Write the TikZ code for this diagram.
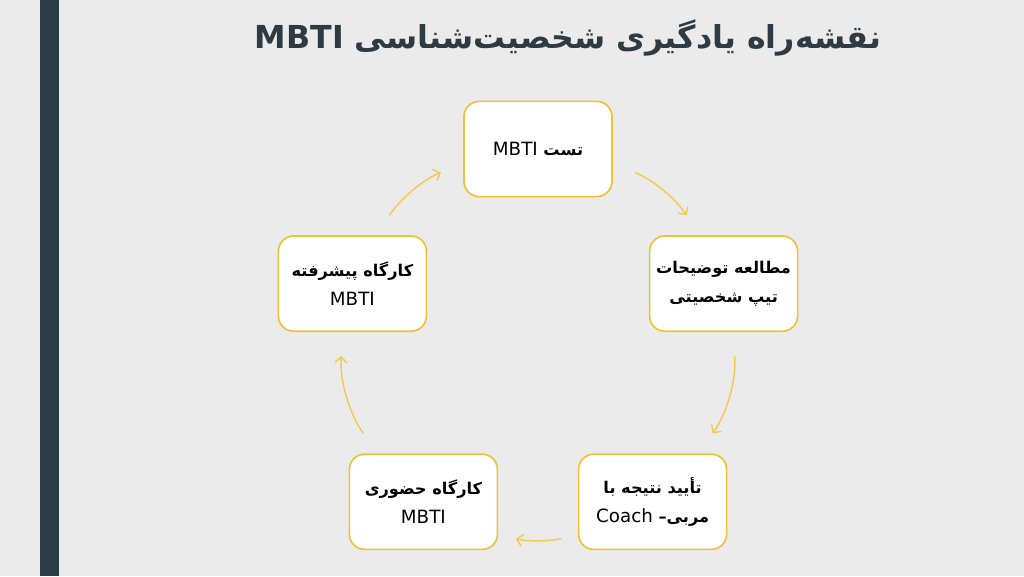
\documentclass[tikz,border=0pt]{standalone}
\usepackage{fontspec}
\usetikzlibrary{positioning, arrows.meta}
\TeXXeTstate=1
\newfontfamily\fafont[Script=Arabic]{DejaVu Sans}
\newcommand{\lat}[1]{{\mdseries\fontsize{13}{20.5}\selectfont\beginL #1\endL}}
\definecolor{pagebg}{HTML}{EBEBEB}
\definecolor{sidebar}{HTML}{2B3D45}
\definecolor{titleink}{HTML}{2E3B43}
\definecolor{gold}{HTML}{EFC23A}
\definecolor{palegold}{HTML}{F2CA4E}
\tikzset{
  stage/.style={
    draw=gold,
    line width=1.2pt,
    rectangle,
    rounded corners=0.38cm,
    minimum width=3.7cm,
    minimum height=2.38cm,
    inner xsep=2pt,
    align=center,
    fill=white,
    font=\fafont\bfseries\fontsize{11.5}{20.5}\selectfont
  },
  link/.style={
    draw=palegold,
    line width=1pt,
    -{Straight Barb[length=4pt,width=8.5pt]},
    shorten <=0.6cm,
    shorten >=0.6cm
  }
}

\begin{document}
\begin{tikzpicture}
    % page and side bar
    \fill[pagebg] (0,0) rectangle (25.6,14.4);
    \fill[sidebar] (1,0) rectangle (1.475,14.4);

    \node[anchor=base, text=titleink, font=\fafont\bfseries\fontsize{22.5}{28}\selectfont] (title) at (14.2,13.18) {\beginR نقشه‌راه یادگیری شخصیت‌شناسی \beginL MBTI\endL\endR};

    \node[stage] (test) at (13.45,10.675) {\beginR تست \lat{MBTI}\endR};
    \node[stage] (study) at (18.09,7.31) {\beginR مطالعه توضیحات\endR\\\beginR تیپ شخصیتی\endR};
    \node[stage] (confirm) at (16.315,1.855) {\beginR تأیید نتیجه با\endR\\\beginR مربی– \lat{Coach}\endR};
    \node[stage] (inperson) at (10.585,1.855) {\beginR کارگاه حضوری\endR\\\lat{MBTI}};
    \node[stage] (advanced) at (8.81,7.31) {\beginR کارگاه پیشرفته\endR\\\lat{MBTI}};

    \draw[link] (test.-11) to[out=-22, in=124] (study.116);
    \draw[link] (study.-79) to[out=-86, in=56] (confirm.46);
    \draw[link, shorten <=0.42cm, shorten >=0.45cm] (confirm.204) to[out=-168, in=-12] (inperson.-24);
    \draw[link] (inperson.134) to[out=124, in=-94] (advanced.259);
    \draw[link] (advanced.64) to[out=56, in=-158] (test.191);
\end{tikzpicture}
\end{document}
